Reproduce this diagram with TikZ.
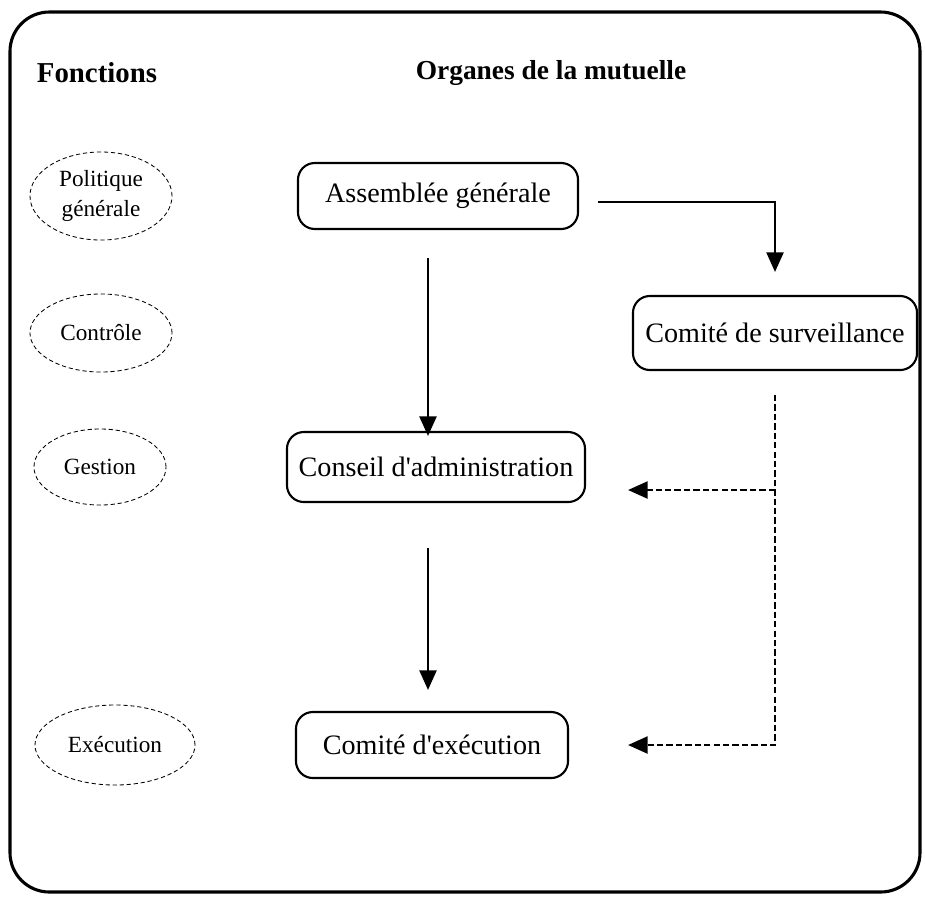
\documentclass[tikz,border=0pt]{standalone}
\usepackage{fontspec}
\setmainfont{Liberation Serif}
\usetikzlibrary{arrows.meta,shapes.geometric}

\tikzset{
  organ/.style={draw, line width=1.5pt, rounded corners=12pt, minimum height=1.65cm,
    font=\fontsize{20}{24}\selectfont},
  fonction/.style={draw, ellipse, densely dashed, line width=0.6pt, inner sep=0pt,
    align=center, font=\fontsize{16.5}{21}\selectfont},
  flow/.style={line width=2pt, -{Triangle[length=14pt,width=12pt]}},
  control/.style={flow, dash pattern=on 4.5pt off 2.2pt}
}

\begin{document}
\begin{tikzpicture}[x=0.025cm, y=-0.025cm]
    \useasboundingbox (0,0) rectangle (925,897);
    % frame
    \draw[line width=2.2pt, rounded corners=28pt] (10,12) rectangle (920,892);
    % headings
    \node[font=\fontsize{20.5}{24}\selectfont\bfseries] (hf) at (97,73) {Fonctions};
    \node[font=\fontsize{19.5}{22}\selectfont\bfseries] (ho) at (551,73) {Organes de la mutuelle};
    % functions
    \node[fonction, minimum width=3.55cm, minimum height=2.2cm] (fp) at (101,196) {Politique\\générale};
    \node[fonction, minimum width=3.55cm, minimum height=1.95cm] (fc) at (101,333) {Contrôle};
    \node[fonction, minimum width=3.3cm, minimum height=1.9cm] (fg) at (100,467) {Gestion};
    \node[fonction, minimum width=4.0cm, minimum height=2.0cm] (fe) at (115,745) {Exécution};
    % organs
    \node[organ, minimum width=7.0cm] (ag) at (438,196) {Assemblée générale};
    \node[organ, minimum width=7.1cm, minimum height=1.85cm] (cs) at (775,333) {Comité de surveillance};
    \node[organ, minimum width=7.45cm, minimum height=1.75cm] (ca) at (436,467) {Conseil d\textquotesingle administration};
    \node[organ, minimum width=6.8cm] (ce) at (432,745) {Comité d\textquotesingle exécution};
    % arrow ends
    \coordinate (agS) at (428,258);
    \coordinate (caN) at (428,436);
    \coordinate (caS) at (428,548);
    \coordinate (ceN) at (428,690);
    \coordinate (agE) at (598,202);
    \coordinate (csN) at (775,272);
    \coordinate (csS) at (775,395);
    \coordinate (caE) at (628,490);
    \coordinate (ceE) at (628,745);
    % hierarchy
    \draw[flow] (agS) -- (caN);
    \draw[flow] (caS) -- (ceN);
    \draw[flow] (agE) -| (csN);
    % supervision
    \draw[control] (csS) |- (ceE);
    \draw[control] (csS |- caE) -- (caE);
\end{tikzpicture}
\end{document}
